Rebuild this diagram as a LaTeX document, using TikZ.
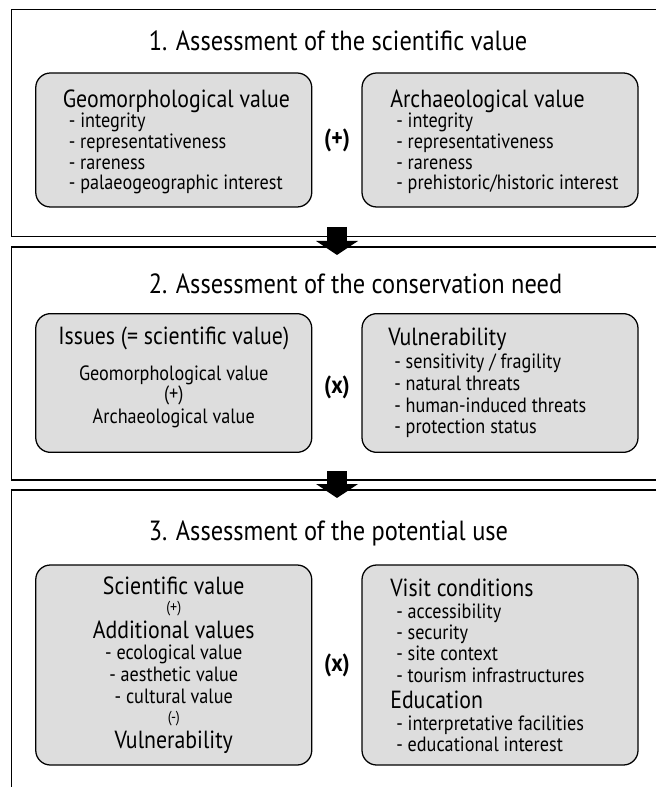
\documentclass[tikz,border=0pt]{standalone}
\usepackage{fontspec}
\setmainfont{PT Sans}[FakeStretch=0.88]
\usetikzlibrary{arrows.meta,positioning}
\definecolor{boxgray}{RGB}{221,221,221}
\newcommand{\ttlfont}{\fontsize{20.8}{24}\selectfont}
\newcommand{\hdfont}{\fontsize{18.6}{16.3}\selectfont}
\newcommand{\itfont}{\fontsize{15.5}{16.3}\selectfont\lineskiplimit=-100pt}
\newcommand{\smfont}{\fontsize{11.9}{16.3}\selectfont}
\newcommand{\itm}[1]{\hspace*{4.5pt}- #1}

\begin{document}
\begin{tikzpicture}[x=0.75pt,y=-0.75pt,
    panel/.style={line width=1.1pt},
    valbox/.style={draw,line width=0.95pt,fill=boxgray,rounded corners=11pt,minimum width=207pt,inner sep=0pt},
    ttl/.style={anchor=base west,inner sep=0pt,font=\ttlfont},
    lefttxt/.style={anchor=west,align=left,inner sep=0pt,font=\itfont},
    midtxt/.style={align=center,inner sep=0pt,font=\itfont},
    oper/.style={inner sep=0pt,font=\bfseries\hdfont},
    flow/.style={line width=15pt,-{Triangle[width=31pt,length=10.5pt]}}]
        \useasboundingbox (0,0) rectangle (656,787);
        \draw [panel] (656,9.3) -- (11.7,9.3) -- (11.7,236.7) -- (656,236.7);
        \draw [panel] (656,247) -- (11.7,247) -- (11.7,480) -- (656,480);
        \draw [panel] (656,490) -- (11.7,490) -- (11.7,787);
        \node [ttl] (ttl1) at (148.5,51) {1. Assessment of the scientific value};
        \node [ttl] (ttl2) at (148.5,294) {2. Assessment of the conservation need};
        \node [ttl] (ttl3) at (148.5,540) {3. Assessment of the potential use};
        \node [valbox,minimum height=100.5pt] (geo) at (173.75,140) {};
        \node [valbox,minimum height=100.5pt] (arch) at (500,140) {};
        \node [oper] (plus) at (337,140) {(+)};
        \node [lefttxt] (geotxt) at ([xshift=20.6pt,yshift=-1.5pt]geo.west) {{\hdfont Geomorphological value}\\[-1pt]
            \itm{integrity}\\[-0.8pt] \itm{representativeness}\\[-0.8pt] \itm{rareness}\\[-0.8pt] \itm{palaeogeographic interest}};
        \node [lefttxt] (archtxt) at ([xshift=21.5pt,yshift=-1.5pt]arch.west) {{\hdfont Archaeological value}\\[-1pt]
            \itm{integrity}\\[-0.8pt] \itm{representativeness}\\[-0.8pt] \itm{rareness}\\[-0.8pt] \itm{prehistoric/historic interest}};
        \node [valbox,minimum height=104pt] (issues) at (173.75,383) {};
        \node [valbox,minimum height=104pt] (vuln) at (500,383) {};
        \node [oper] (times1) at (337,387) {(x)};
        \node [midtxt] (issuestxt) at ([yshift=4pt]issues.center) {{\hdfont Issues (= scientific value)}\\[10.5pt]
            Geomorphological value\\[-1.3pt] (+)\\[1.3pt] Archaeological value};
        \node [lefttxt] (vulntxt) at ([xshift=20pt]vuln.west) {{\hdfont Vulnerability}\\[1pt]
            \itm{sensitivity / fragility}\\ \itm{natural threats}\\ \itm{human-induced threats}\\ \itm{protection status}};
        \node [valbox,minimum height=150pt] (sci) at (173.75,665) {};
        \node [valbox,minimum height=150pt] (visit) at (500,665) {};
        \node [oper] (times2) at (337,665) {(x)};
        \node [midtxt] (scitxt) at (sci) {{\hdfont Scientific value}\\[-2.8pt] {\smfont (+)}\\[3.2pt]
            {\hdfont Additional values}\\[-0.3pt] - ecological value\\[-0.1pt] - aesthetic value\\[0.2pt] - cultural value\\[-1.6pt]
            {\smfont (-)}\\[2.7pt] {\hdfont Vulnerability}};
        \node [lefttxt] (visittxt) at ([xshift=21.5pt]visit.west) {{\hdfont Visit conditions}\\[0.2pt]
            \itm{accessibility}\\[-0.3pt] \itm{security}\\[-0.3pt] \itm{site context}\\[-0.3pt] \itm{tourism infrastructures}\\[3.5pt]
            {\hdfont Education}\\[0.5pt] \itm{interpretative facilities}\\[-1pt] \itm{educational interest}};
        \coordinate (flow1a) at (337,227);
        \coordinate (flow1b) at (337,255);
        \coordinate (flow2a) at (337,471);
        \coordinate (flow2b) at (337,498);
        \draw [flow] (flow1a) -- (flow1b);
        \draw [flow] (flow2a) -- (flow2b);
\end{tikzpicture}
\end{document}
